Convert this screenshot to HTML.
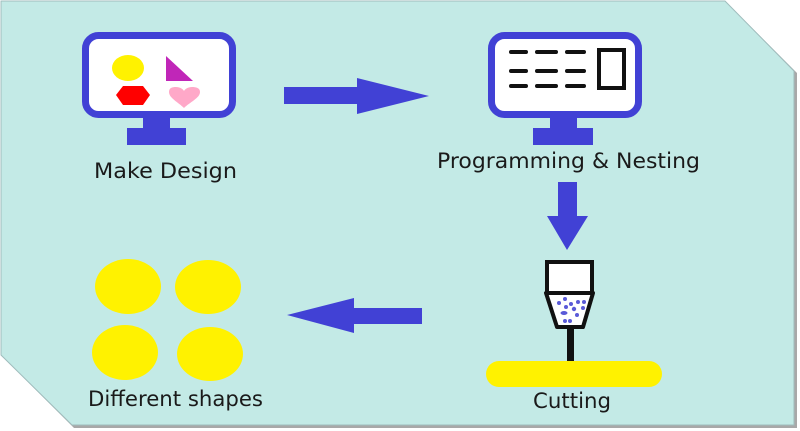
<!DOCTYPE html>
<html><head><meta charset="utf-8"><style>
html,body{margin:0;padding:0;background:#fff;}
svg{display:block;}
text{font-family:"DejaVu Sans","Liberation Sans",sans-serif;font-size:21px;fill:#1a1a1a;}
</style></head><body>
<svg width="800" height="431" viewBox="0 0 800 431" xmlns="http://www.w3.org/2000/svg">
<polygon points="3,3 727,3 797,73 797,428 74,428 3,357" fill="#a8a8a8"/>
<polygon points="1,1 725,1 794,71 794,425 72,425 1,355" fill="#C3EAE6" stroke="#9fbcbc" stroke-width="1"/>

<!-- Monitor 1 -->
<rect x="85.5" y="35.5" width="147" height="79" rx="13" fill="#fff" stroke="#4141D5" stroke-width="7"/>
<rect x="143" y="117" width="27" height="12" fill="#4141D5"/>
<rect x="127" y="128" width="59" height="17" fill="#4141D5"/>
<ellipse cx="128" cy="68" rx="16" ry="13" fill="#FFF200"/>
<polygon points="166,56 166,81 193,81" fill="#C026B8"/>
<polygon points="116,95 123,86 143,86 150,95 143,105 123,105" fill="#FF0000"/>
<path d="M184,108 C178,102 169,98 169,92 C169,88 172,87 176,87 C180,87 183,89 184,91 C185,89 188,87 192,87 C196,87 200,88 200,92 C200,98 190,102 184,108 Z" fill="#FFA8C8"/>
<text x="94" y="178" textLength="143" lengthAdjust="spacingAndGlyphs">Make Design</text>

<!-- Arrow right -->
<polygon points="284,87 357,87 357,78 429,96 357,114 357,104 284,104" fill="#4141D5"/>

<!-- Monitor 2 -->
<rect x="491.5" y="35.5" width="147" height="79" rx="13" fill="#fff" stroke="#4141D5" stroke-width="7"/>
<rect x="550" y="117" width="27" height="12" fill="#4141D5"/>
<rect x="533" y="128" width="60" height="17" fill="#4141D5"/>
<g stroke="#111" stroke-width="4" stroke-linecap="round">
<line x1="511" y1="52" x2="526" y2="52"/><line x1="537" y1="52" x2="556" y2="52"/><line x1="567" y1="52" x2="584" y2="52"/>
<line x1="511" y1="71" x2="526" y2="71"/><line x1="537" y1="71" x2="556" y2="71"/><line x1="567" y1="71" x2="584" y2="71"/>
<line x1="511" y1="86" x2="526" y2="86"/><line x1="537" y1="86" x2="556" y2="86"/><line x1="567" y1="86" x2="584" y2="86"/>
</g>
<rect x="599" y="50" width="25" height="38" fill="#fff" stroke="#111" stroke-width="4"/>
<text x="437" y="168" textLength="263" lengthAdjust="spacingAndGlyphs">Programming &amp; Nesting</text>

<!-- Arrow down -->
<polygon points="558,182 577,182 577,216 588,216 567,250 547,216 558,216" fill="#4141D5"/>

<!-- Cutting tool -->
<rect x="547" y="262" width="45" height="31" fill="#fff" stroke="#111" stroke-width="4"/>
<polygon points="546,293 593,293 583,327 557,327" fill="#fff" stroke="#111" stroke-width="4" stroke-linejoin="round"/>
<g fill="#5a5ad8">
<circle cx="559" cy="303" r="2"/><circle cx="565" cy="299" r="2"/><circle cx="571" cy="304" r="2"/><circle cx="578" cy="302" r="2"/><circle cx="584" cy="302" r="2"/>
<circle cx="566" cy="307" r="2"/><circle cx="574" cy="309" r="2.2"/><circle cx="583" cy="308" r="2"/>
<ellipse cx="564" cy="313" rx="3.5" ry="2"/><circle cx="577" cy="315" r="2"/>
<circle cx="565" cy="321" r="2"/><circle cx="570" cy="321" r="2"/>
</g>
<rect x="567" y="327" width="7" height="36" fill="#111"/>
<rect x="486" y="361" width="176" height="26" rx="13" fill="#FFF200"/>
<text x="533" y="408" textLength="78" lengthAdjust="spacingAndGlyphs">Cutting</text>

<!-- Arrow left -->
<polygon points="287,315 354,298 354,308 422,308 422,324 354,324 354,333" fill="#4141D5"/>

<!-- Yellow circles -->
<ellipse cx="128" cy="286.5" rx="33" ry="27.5" fill="#FFF200"/>
<ellipse cx="208" cy="287" rx="33" ry="27" fill="#FFF200"/>
<ellipse cx="125" cy="352.5" rx="33" ry="27.5" fill="#FFF200"/>
<ellipse cx="210" cy="354" rx="33" ry="27" fill="#FFF200"/>
<text x="88" y="406" textLength="175" lengthAdjust="spacingAndGlyphs">Different shapes</text>
</svg>
</body></html>
